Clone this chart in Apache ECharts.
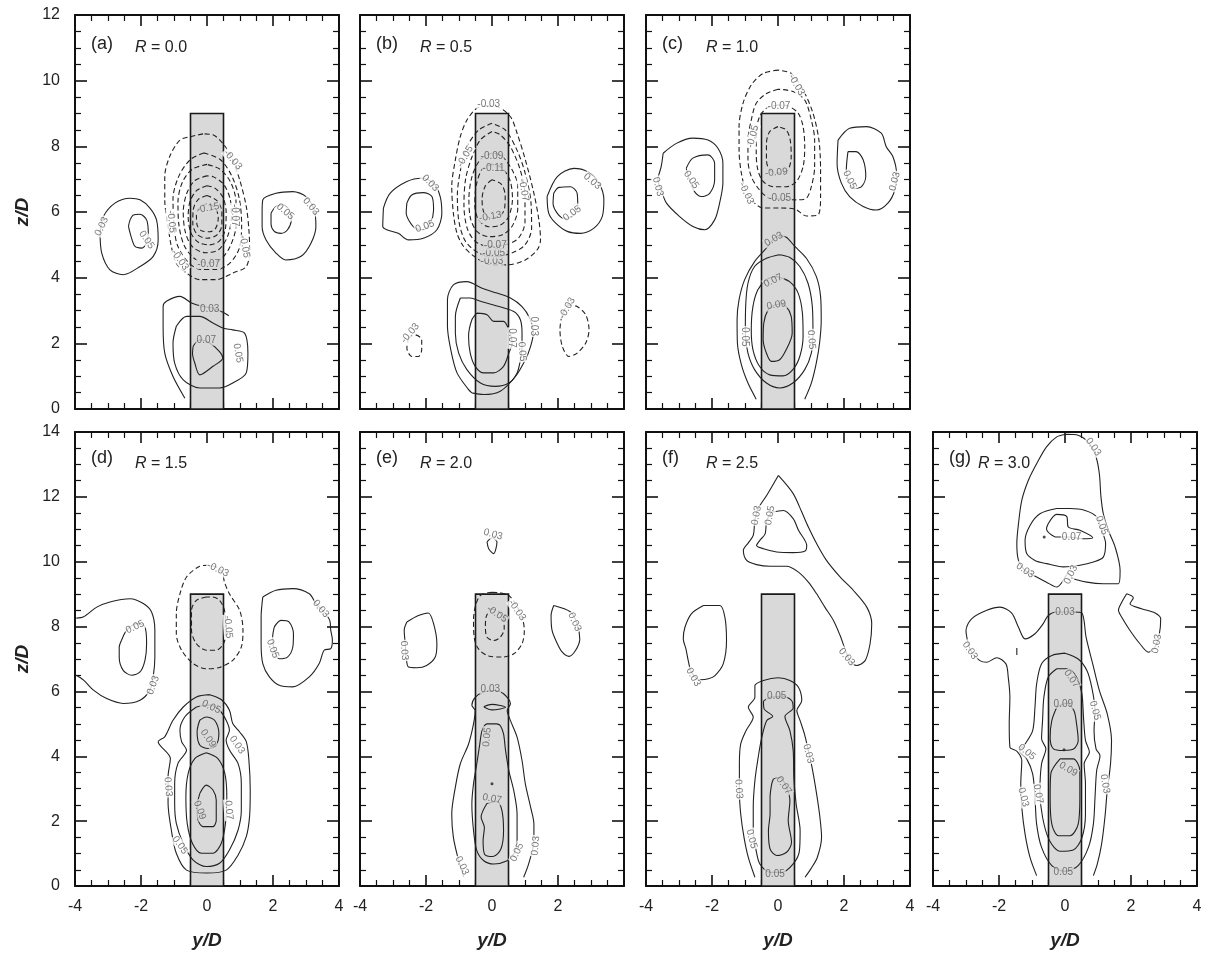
<!DOCTYPE html>
<html><head><meta charset="utf-8">
<script src="https://cdn.jsdelivr.net/npm/echarts@6/dist/echarts.min.js"></script>
<style>html,body{margin:0;padding:0;background:#fff}#c{width:1209px;height:960px}</style>
</head><body><div id="c"></div>
<script>
// ---------- categories / ticks ----------
const panelLetters = ['(a)','(b)','(c)','(d)','(e)','(f)','(g)'];
const rValues = ['0.0','0.5','1.0','1.5','2.0','2.5','3.0'];
const xTickLabels = [-4,-2,0,2,4];
const zMaxTop = 12, zMaxBottom = 14;
const rodHalfWidth = 0.5, rodHeight = 9;

// ---------- panel (a) R=0.0 ----------
const a_solid = [
 [[-3.24,5.36],[-3.14,5.86],[-2.79,6.27],[-2.33,6.42],[-2.03,6.37],[-1.73,6.12],[-1.53,5.76],[-1.48,5.15],[-1.63,4.65],[-2.03,4.34],[-2.54,4.09],[-2.94,4.24],[-3.19,4.75],[-3.24,5.36]],
 [[-2.38,5.56],[-2.33,5.76],[-2.23,5.91],[-2.03,5.93],[-1.83,5.76],[-1.78,5.36],[-1.83,5.05],[-1.98,4.90],[-2.18,4.95],[-2.30,5.25],[-2.38,5.56]],
 [[1.67,5.96],[1.69,6.37],[2.09,6.57],[2.60,6.62],[3.00,6.47],[3.25,6.06],[3.30,5.56],[3.15,5.05],[2.85,4.65],[2.39,4.54],[2.09,4.75],[1.79,5.15],[1.67,5.56],[1.67,5.96]],
 [[1.94,5.96],[2.09,6.17],[2.29,6.22],[2.49,6.06],[2.55,5.76],[2.44,5.46],[2.24,5.35],[2.04,5.41],[1.94,5.66],[1.94,5.96]],
 [[-0.67,0.33],[-1.03,0.99],[-1.28,1.70],[-1.33,2.52],[-1.33,3.12],[-1.23,3.28],[-0.82,3.43],[-0.47,3.23],[-0.12,3.12],[0.18,3.07],[0.50,2.94],[0.66,2.84]],
 [[-0.93,2.52],[-1.03,2.01],[-0.98,1.40],[-0.72,0.89],[-0.22,0.64],[0.38,0.64],[0.78,0.79],[1.19,1.10],[1.24,1.70],[1.14,2.31],[0.78,2.41],[0.50,2.46],[0.18,2.62],[-0.22,2.82],[-0.62,2.82],[-0.93,2.52]],
 [[-0.42,1.91],[-0.22,2.11],[0.08,2.01],[0.38,1.75],[0.48,1.55],[0.18,1.30],[-0.22,1.04],[-0.37,1.40],[-0.44,1.70],[-0.42,1.91]]
];
const a_dashed = [
 [[-0.12,8.38],[-0.47,8.30],[-0.82,8.19],[-1.13,7.69],[-1.28,7.08],[-1.28,6.37],[-1.18,5.56],[-1.08,4.95],[-0.93,4.44],[-0.62,4.14],[-0.22,3.94],[0.28,3.94],[0.78,4.14],[1.19,4.34],[1.29,4.85],[1.27,5.46],[1.19,6.17],[0.99,6.98],[0.73,7.69],[0.48,8.09],[0.18,8.35],[-0.12,8.38]],
 [[-0.1,7.8],[-0.5,7.6],[-0.85,7.1],[-1.03,6.4],[-1.0,5.6],[-0.9,5.0],[-0.6,4.5],[-0.2,4.25],[0.3,4.25],[0.7,4.45],[0.98,4.9],[1.05,5.6],[0.98,6.4],[0.75,7.1],[0.4,7.6],[-0.1,7.8]],
 [[0,7.45],[-0.45,7.3],[-0.75,6.9],[-0.88,6.3],[-0.85,5.6],[-0.7,5.0],[-0.4,4.6],[0,4.45],[0.4,4.55],[0.7,4.95],[0.88,5.6],[0.88,6.3],[0.72,6.9],[0.4,7.3],[0,7.45]],
 [[0,7.1],[-0.38,6.95],[-0.62,6.55],[-0.72,6.0],[-0.66,5.4],[-0.45,4.95],[-0.05,4.76],[0.35,4.85],[0.62,5.25],[0.74,5.85],[0.7,6.4],[0.5,6.85],[0.2,7.07],[0,7.1]],
 [[0,6.8],[-0.32,6.65],[-0.52,6.3],[-0.57,5.85],[-0.48,5.35],[-0.25,5.07],[0.08,5.0],[0.38,5.12],[0.56,5.5],[0.58,6.0],[0.48,6.45],[0.25,6.72],[0,6.8]],
 [[0,6.5],[-0.27,6.38],[-0.42,6.05],[-0.43,5.65],[-0.3,5.32],[0,5.2],[0.3,5.3],[0.45,5.6],[0.45,6.0],[0.3,6.35],[0,6.5]],
 [[0,6.25],[-0.2,6.15],[-0.32,5.9],[-0.3,5.6],[-0.15,5.42],[0.08,5.4],[0.26,5.5],[0.34,5.8],[0.28,6.08],[0.12,6.22],[0,6.25]]
];
const a_labels = [
 [-3.19,5.56,'0.03',65],[-1.83,5.15,'0.05',-55],[3.15,6.17,'0.03',-50],[2.37,6.01,'0.05',-40],
 [0.78,7.59,'-0.03',-50],[-0.82,4.54,'-0.03',-55],[-1.08,5.71,'-0.05',-85],[1.14,4.95,'-0.05',-80],
 [0.85,5.9,'-0.07',-90],[0.03,6.12,'-0.15',10],[0.05,4.42,'-0.07',0],[0.08,3.03,'0.03',0],
 [-0.02,2.08,'0.07',0],[0.94,1.70,'0.05',-80]
];

// ---------- panel (b) R=0.5 ----------
const b_solid = [
 [[-3.29,6.12],[-3.09,6.57],[-2.58,6.93],[-2.13,7.03],[-1.77,6.88],[-1.57,6.47],[-1.52,5.96],[-1.67,5.46],[-2.08,5.20],[-2.53,5.15],[-2.84,5.35],[-3.19,5.46],[-3.31,5.56],[-3.29,6.12]],
 [[-2.58,6.27],[-2.43,6.52],[-2.08,6.59],[-1.82,6.47],[-1.77,6.06],[-1.87,5.66],[-2.08,5.46],[-2.33,5.51],[-2.50,5.71],[-2.60,5.96],[-2.58,6.27]],
 [[1.67,6.47],[1.98,7.08],[2.48,7.33],[2.89,7.23],[3.24,6.88],[3.39,6.37],[3.34,5.86],[3.09,5.51],[2.68,5.35],[2.28,5.41],[1.93,5.66],[1.72,5.96],[1.67,6.47]],
 [[1.87,6.57],[2.03,6.75],[2.38,6.77],[2.58,6.57],[2.60,6.12],[2.43,5.86],[2.18,5.81],[1.98,5.96],[1.85,6.27],[1.87,6.57]],
 [[-0.61,0.49],[-0.71,0.59],[-1.06,1.10],[-1.25,1.81],[-1.35,2.52],[-1.35,3.33],[-1.17,3.78],[-0.76,3.88],[-0.30,3.68],[0.15,3.53],[0.56,3.38],[0.91,3.12],[1.14,2.77],[1.25,2.31],[1.17,1.91],[1.01,1.50],[0.71,0.99],[0.25,0.54],[-0.25,0.44],[-0.61,0.49]],
 [[-0.96,3.38],[-1.11,2.82],[-1.11,2.31],[-1.01,1.70],[-0.76,1.20],[-0.35,0.79],[0.10,0.69],[0.51,0.79],[0.76,1.10],[0.86,1.50],[0.91,1.91],[0.91,2.31],[0.86,2.72],[0.66,2.97],[0.05,3.17],[-0.35,3.28],[-0.66,3.38],[-0.96,3.38]],
 [[-0.46,2.92],[-0.15,2.87],[0.05,2.67],[0.35,2.67],[0.51,2.41],[0.61,2.01],[0.51,1.70],[0.35,1.30],[0.05,1.10],[-0.25,1.10],[-0.51,1.30],[-0.66,1.70],[-0.71,2.21],[-0.61,2.72],[-0.46,2.92]]
];
const b_dashed = [
 [[-0.15,9.23],[-0.46,9.16],[-0.76,8.80],[-0.96,8.30],[-1.11,7.59],[-1.22,6.77],[-1.17,5.96],[-1.06,5.35],[-0.86,4.95],[-0.46,4.59],[0,4.39],[0.46,4.39],[1.01,4.54],[1.37,4.85],[1.47,5.15],[1.42,5.76],[1.27,6.57],[1.01,7.59],[0.76,8.40],[0.56,8.90],[0.20,9.19],[-0.15,9.23]],
 [[0,8.7],[-0.4,8.5],[-0.75,8.0],[-0.95,7.3],[-1.05,6.5],[-1.0,5.7],[-0.8,5.1],[-0.4,4.75],[0.1,4.65],[0.6,4.75],[1.0,5.0],[1.2,5.5],[1.18,6.3],[1.0,7.2],[0.75,7.9],[0.4,8.5],[0,8.7]],
 [[0,8.45],[-0.35,8.2],[-0.6,7.7],[-0.8,7.0],[-0.85,6.2],[-0.75,5.5],[-0.5,5.1],[-0.1,4.95],[0.4,5.0],[0.8,5.2],[1.0,5.7],[1.0,6.5],[0.85,7.3],[0.55,8.0],[0.25,8.35],[0,8.45]],
 [[0,7.8],[-0.35,7.6],[-0.6,7.1],[-0.7,6.4],[-0.65,5.8],[-0.45,5.4],[-0.1,5.25],[0.3,5.3],[0.6,5.55],[0.78,6.1],[0.78,6.8],[0.6,7.3],[0.3,7.7],[0,7.8]],
 [[0,7.45],[-0.3,7.3],[-0.48,6.8],[-0.52,6.2],[-0.4,5.75],[-0.1,5.55],[0.25,5.6],[0.5,5.85],[0.62,6.4],[0.55,6.95],[0.3,7.35],[0,7.45]],
 [[0,6.98],[-0.2,6.8],[-0.3,6.4],[-0.25,6.0],[-0.05,5.82],[0.2,5.85],[0.38,6.1],[0.4,6.5],[0.28,6.85],[0,6.98]],
 [[-2.53,2.16],[-2.33,2.26],[-2.13,2.11],[-2.13,1.81],[-2.23,1.60],[-2.43,1.60],[-2.58,1.86],[-2.53,2.16]],
 [[2.28,3.17],[2.58,3.12],[2.84,2.87],[2.94,2.41],[2.84,2.01],[2.58,1.70],[2.33,1.60],[2.13,1.91],[2.06,2.41],[2.13,2.87],[2.28,3.17]]
];
const b_labels = [
 [-1.87,6.88,'0.03',-45],[-2.03,5.56,'0.05',20],[3.04,6.93,'0.03',-40],[2.43,5.96,'0.05',35],
 [-0.1,9.27,'-0.03',0],[0,4.49,'-0.03',0],[0.05,4.73,'-0.05',0],[0.1,4.98,'-0.07',0],
 [-0.81,7.69,'-0.05',60],[0,7.69,'-0.09',0],[0.05,7.33,'-0.11',0],[0.96,6.67,'-0.07',-80],
 [-0.05,5.86,'-0.13',10],[1.25,2.52,'0.03',-90],[0.91,1.75,'0.05',-85],[0.61,2.16,'0.07',-90],
 [-2.48,2.31,'-0.03',50],[2.28,3.07,'-0.03',60]
];

// ---------- panel (c) R=1.0 ----------
const c_solid = [
 [[-3.48,7.79],[-3.08,8.09],[-2.58,8.25],[-2.12,8.19],[-1.82,7.94],[-1.67,7.48],[-1.67,6.88],[-1.77,6.27],[-1.92,5.76],[-2.22,5.46],[-2.58,5.56],[-2.98,5.86],[-3.38,6.27],[-3.54,6.67],[-3.64,6.98],[-3.54,7.38],[-3.48,7.79]],
 [[-2.78,7.33],[-2.58,7.64],[-2.12,7.74],[-1.92,7.48],[-1.92,6.98],[-2.07,6.57],[-2.32,6.47],[-2.53,6.62],[-2.68,6.98],[-2.78,7.33]],
 [[1.82,8.19],[2.17,8.55],[2.68,8.60],[3.13,8.40],[3.28,7.99],[3.48,7.69],[3.59,7.18],[3.54,6.67],[3.33,6.27],[2.98,6.06],[2.58,6.17],[2.17,6.47],[1.92,6.88],[1.79,7.48],[1.82,8.19]],
 [[2.12,7.84],[2.37,7.84],[2.58,7.59],[2.66,7.08],[2.53,6.77],[2.32,6.72],[2.17,6.88],[2.07,7.28],[2.12,7.84]],
 [[-0.66,0.30],[-0.91,0.79],[-1.11,1.35],[-1.23,2.01],[-1.24,2.72],[-1.18,3.33],[-1.01,3.94],[-0.71,4.49],[-0.35,4.90],[0,5.27],[0.25,5.23],[0.51,4.95],[0.86,4.59],[1.16,4.04],[1.29,3.43],[1.31,2.72],[1.26,2.01],[1.16,1.40],[1.01,0.79],[0.81,0.30]],
 [[0.03,4.70],[-0.35,4.59],[-0.71,4.34],[-0.91,3.83],[-0.98,3.12],[-0.99,2.31],[-0.91,1.70],[-0.71,1.20],[-0.35,0.79],[0.05,0.64],[0.45,0.79],[0.81,1.20],[1.01,1.70],[1.06,2.31],[1.04,3.12],[0.91,3.83],[0.66,4.34],[0.35,4.62],[0.03,4.70]],
 [[-0.05,4.04],[-0.35,3.94],[-0.61,3.63],[-0.76,3.12],[-0.81,2.41],[-0.76,1.81],[-0.56,1.30],[-0.25,1.04],[0.15,1.01],[0.45,1.20],[0.66,1.60],[0.76,2.21],[0.74,2.92],[0.61,3.53],[0.35,3.88],[-0.05,4.04]],
 [[-0.10,3.17],[-0.30,3.02],[-0.43,2.62],[-0.45,2.11],[-0.35,1.70],[-0.20,1.45],[0.05,1.50],[0.25,1.81],[0.43,2.31],[0.40,2.82],[0.25,3.12],[0.05,3.20],[-0.10,3.17]]
];
const c_dashed = [
 [[0,10.32],[-0.45,10.22],[-0.81,9.87],[-1.06,9.31],[-1.18,8.60],[-1.18,7.89],[-1.11,7.18],[-0.96,6.62],[-0.71,6.27],[-0.45,6.12],[0.05,6.12],[0.51,6.09],[0.86,5.88],[1.21,5.91],[1.29,6.47],[1.29,7.28],[1.24,8.19],[1.06,9.01],[0.76,9.72],[0.40,10.22],[0,10.32]],
 [[0,9.74],[-0.35,9.61],[-0.66,9.31],[-0.81,8.80],[-0.91,8.19],[-0.91,7.59],[-0.81,7.08],[-0.56,6.67],[-0.25,6.42],[0.15,6.39],[0.56,6.37],[0.86,6.42],[1.01,6.77],[1.11,7.38],[1.11,8.19],[1.01,8.80],[0.81,9.41],[0.45,9.67],[0,9.74]],
 [[0,9.26],[-0.35,9.16],[-0.56,8.90],[-0.66,8.40],[-0.66,7.79],[-0.61,7.28],[-0.45,6.93],[-0.15,6.77],[0.25,6.77],[0.56,6.93],[0.76,7.38],[0.81,7.99],[0.76,8.60],[0.61,9.01],[0.30,9.23],[0,9.26]],
 [[0,8.60],[-0.25,8.45],[-0.35,8.09],[-0.35,7.59],[-0.25,7.28],[0.05,7.18],[0.30,7.28],[0.40,7.69],[0.37,8.19],[0.25,8.50],[0,8.60]]
];
const c_labels = [
 [-3.64,6.77,'0.03',-75],[-2.63,6.98,'0.05',-55],[3.54,6.93,'0.03',75],[2.17,6.98,'0.05',-65],
 [0.56,9.87,'-0.03',-60],[-0.96,6.57,'-0.03',-65],[-0.76,8.30,'-0.05',75],[0.03,9.23,'-0.07',0],
 [-0.05,7.2,'-0.09',5],[0.05,6.42,'-0.05',0],[-0.13,5.17,'0.03',30],[-0.15,3.91,'0.07',25],
 [-0.05,3.17,'0.09',10],[-1.0,2.2,'0.05',-90],[1.01,2.11,'0.05',-85]
];

// ---------- panel (d) R=1.5 ----------
const d_solid = [
 [[-3.96,8.26],[-3.74,8.30],[-3.34,8.60],[-2.94,8.76],[-2.33,8.86],[-1.93,8.71],[-1.68,8.45],[-1.58,7.89],[-1.58,7.06],[-1.63,6.45],[-1.73,6.04],[-2.03,5.73],[-2.54,5.63],[-3.04,5.78],[-3.44,6.04],[-3.74,6.35],[-3.96,6.50]],
 [[-2.59,7.58],[-2.43,7.89],[-2.13,8.09],[-1.88,7.99],[-1.83,7.47],[-1.88,6.96],[-2.03,6.60],[-2.28,6.50],[-2.54,6.65],[-2.66,7.06],[-2.66,7.37],[-2.59,7.58]],
 [[1.69,8.91],[2.09,9.12],[2.60,9.17],[3.10,9.01],[3.30,8.71],[3.55,8.45],[3.72,8.19],[3.75,7.89],[3.80,7.58],[3.75,7.32],[3.55,7.27],[3.40,6.86],[3.10,6.45],[2.60,6.14],[2.19,6.19],[1.89,6.45],[1.69,6.86],[1.64,7.47],[1.64,8.30],[1.69,8.91]],
 [[2.04,7.99],[2.24,8.19],[2.49,8.14],[2.62,7.78],[2.60,7.37],[2.44,7.06],[2.19,7.01],[2.04,7.27],[1.99,7.68],[2.04,7.99]],
 [[0.08,5.90],[0.43,5.75],[0.68,5.42],[0.78,5.01],[0.99,4.75],[1.19,4.45],[1.27,3.88],[1.31,2.96],[1.29,2.14],[1.19,1.52],[0.94,0.95],[0.58,0.49],[0,0.4],[-0.62,0.49],[-0.93,1.01],[-1.08,1.72],[-1.18,2.55],[-1.18,3.37],[-1.11,3.93],[-1.48,4.45],[-1.28,4.60],[-1.03,5.11],[-0.72,5.52],[-0.32,5.83],[0.08,5.90]],
 [[-0.32,5.52],[-0.67,5.22],[-0.82,4.80],[-0.77,4.45],[-0.62,4.19],[-0.88,3.78],[-0.98,3.16],[-0.98,2.55],[-0.93,1.93],[-0.72,1.31],[-0.42,0.80],[-0.02,0.60],[0.38,0.70],[0.68,1.11],[0.94,1.72],[1.04,2.34],[1.04,3.16],[0.94,3.78],[0.68,4.19],[0.58,4.50],[0.68,4.80],[0.58,5.11],[0.38,5.42],[0.08,5.58],[-0.32,5.52]],
 [[-0.22,5.11],[-0.02,5.21],[0.23,5.11],[0.36,4.70],[0.28,4.35],[0.03,4.24],[-0.22,4.35],[-0.30,4.76],[-0.22,5.11]],
 [[-0.02,4.11],[-0.37,3.93],[-0.57,3.47],[-0.64,2.75],[-0.60,1.93],[-0.44,1.31],[-0.17,1.01],[0.18,1.01],[0.43,1.31],[0.56,1.93],[0.60,2.75],[0.54,3.47],[0.33,3.93],[-0.02,4.11]],
 [[-0.22,2.85],[-0.02,3.11],[0.18,2.96],[0.28,2.65],[0.28,2.03],[0.18,1.83],[-0.12,1.83],[-0.27,2.03],[-0.30,2.44],[-0.22,2.85]]
];
const d_dashed = [
 [[0.03,9.89],[-0.22,9.86],[-0.62,9.53],[-0.82,9.01],[-0.93,8.40],[-0.93,7.78],[-0.77,7.27],[-0.42,6.86],[-0.02,6.70],[0.38,6.74],[0.78,6.96],[1.04,7.37],[1.09,7.89],[0.99,8.50],[0.68,9.01],[0.53,9.37],[0.46,9.68],[0.28,9.84],[0.03,9.89]],
 [[-0.02,8.91],[-0.32,8.81],[-0.47,8.50],[-0.47,7.89],[-0.32,7.47],[-0.02,7.27],[0.28,7.27],[0.50,7.47],[0.58,7.89],[0.53,8.50],[0.38,8.81],[0.18,8.91],[-0.02,8.91]]
];
const d_labels = [
 [-2.18,7.99,'0.05',25],[-1.63,6.19,'0.03',70],[3.45,8.55,'0.03',-50],[1.99,7.32,'0.05',-70],
 [0.33,9.76,'-0.03',-25],[0.64,7.99,'-0.05',-85],[0.13,5.52,'0.05',-25],[0.03,4.55,'0.09',-55],
 [0.91,4.35,'0.03',-55],[-1.18,3.06,'0.03',-85],[0.66,2.34,'0.07',-85],[-0.22,2.34,'0.09',-70],
 [-0.82,1.26,'0.05',-55]
];

// ---------- panel (e) R=2.0 ----------
const e_solid = [
 [[-0.15,10.61],[0,10.74],[0.15,10.61],[0.05,10.25],[-0.10,10.40],[-0.15,10.61]],
 [[-2.58,8.14],[-2.23,8.34],[-1.93,8.42],[-1.77,8.09],[-1.67,7.47],[-1.72,7.06],[-1.98,6.80],[-2.28,6.73],[-2.53,6.75],[-2.60,7.06],[-2.63,7.47],[-2.66,7.89],[-2.58,8.14]],
 [[1.87,8.65],[2.38,8.45],[2.58,8.09],[2.66,7.62],[2.53,7.26],[2.33,7.08],[2.13,7.21],[1.98,7.47],[1.82,7.88],[1.79,8.34],[1.87,8.65]],
 [[-0.86,0.29],[-1.01,0.78],[-1.17,1.50],[-1.22,2.22],[-1.11,3.05],[-0.96,3.77],[-0.71,4.38],[-0.56,5.00],[-0.51,5.41],[-0.61,5.57],[-0.51,5.82],[-0.25,5.98],[0.05,6.03],[0.35,5.93],[0.56,5.62],[0.46,5.41],[0.56,5.10],[0.76,4.59],[0.91,3.87],[1.01,3.15],[1.17,2.43],[1.27,1.91],[1.27,1.40],[1.11,0.68],[0.96,0.27]],
 [[-0.25,5.53],[0,5.60],[0.41,5.51],[0,5.43],[-0.25,5.53]],
 [[0.15,5.00],[-0.15,5.00],[-0.30,4.79],[-0.37,4.38],[-0.46,3.77],[-0.56,3.15],[-0.61,2.53],[-0.56,1.71],[-0.46,1.09],[-0.25,0.78],[0.05,0.68],[0.46,0.78],[0.66,0.99],[0.76,1.40],[0.76,2.22],[0.66,2.94],[0.51,3.56],[0.41,4.18],[0.35,4.69],[0.25,4.95],[0.15,5.00]],
 [[-0.15,2.55],[0.15,2.61],[0.30,2.33],[0.35,1.71],[0.27,1.14],[0.03,0.91],[-0.23,0.99],[-0.27,1.40],[-0.23,1.81],[-0.33,2.12],[-0.15,2.55]]
];
const e_dashed = [
 [[0,9.06],[-0.35,8.96],[-0.51,8.60],[-0.56,8.19],[-0.54,7.67],[-0.41,7.31],[-0.10,7.09],[0.30,7.06],[0.66,7.16],[0.91,7.47],[0.98,7.88],[0.91,8.29],[0.71,8.70],[0.51,8.96],[0.25,9.04],[0,9.06]],
 [[-0.05,8.55],[0.15,8.50],[0.35,8.29],[0.37,7.93],[0.25,7.67],[0.05,7.57],[-0.15,7.67],[-0.20,7.98],[-0.18,8.29],[-0.05,8.55]]
];
const e_labels = [
 [0.03,10.84,'0.03',-15],[-2.66,7.26,'0.03',-85],[2.50,8.14,'0.03',-65],[0.76,8.50,'-0.03',-55],
 [0.15,8.39,'-0.05',-35],[-0.05,6.07,'0.03',0],[-0.15,4.59,'0.05',85],[0,2.69,'0.07',-10],
 [0.76,1.04,'0.05',65],[1.32,1.24,'0.03',85],[-0.91,0.63,'0.03',-65]
];
const e_dots = [[0,3.15]];

// ---------- panel (f) R=2.5 ----------
const f_solid = [
 [[0.01,12.66],[0.46,12.10],[0.72,11.53],[0.92,11.07],[1.17,10.56],[1.47,10.04],[1.88,9.53],[2.28,9.12],[2.69,8.60],[2.84,8.09],[2.79,7.47],[2.64,6.95],[2.38,6.80],[2.18,6.95],[2.03,7.31],[1.88,7.73],[1.68,8.19],[1.42,8.60],[1.17,9.01],[0.92,9.37],[0.62,9.68],[0.26,9.86],[-0.24,9.86],[-0.65,9.91],[-0.95,10.04],[-1.05,10.35],[-0.90,10.58],[-0.75,10.81],[-0.70,11.28],[-0.60,11.64],[-0.34,12.05],[0.01,12.66]],
 [[-0.19,11.53],[0.16,11.58],[0.46,11.33],[0.62,10.97],[0.87,10.50],[0.82,10.33],[0.46,10.28],[-0.04,10.30],[-0.44,10.40],[-0.65,10.50],[-0.55,10.66],[-0.39,10.86],[-0.34,11.28],[-0.19,11.53]],
 [[-2.26,8.65],[-1.76,8.65],[-1.61,8.29],[-1.56,7.57],[-1.66,6.85],[-1.91,6.49],[-2.11,6.39],[-2.36,6.36],[-2.62,6.59],[-2.72,6.95],[-2.79,7.31],[-2.87,7.62],[-2.82,7.98],[-2.62,8.40],[-2.26,8.65]],
 [[-0.70,0.27],[-0.90,0.88],[-1.03,1.50],[-1.13,2.22],[-1.17,2.94],[-1.17,3.77],[-1.13,4.38],[-0.97,4.79],[-0.75,5.21],[-0.90,5.51],[-0.70,5.82],[-0.70,6.18],[-0.44,6.34],[0.01,6.42],[0.36,6.34],[0.62,6.13],[0.72,5.72],[0.57,5.41],[0.67,5.10],[0.80,4.69],[0.92,4.18],[1.05,3.56],[1.17,2.84],[1.27,2.12],[1.32,1.50],[1.19,0.88],[0.99,0.52],[0.82,0.27]],
 [[-0.44,5.70],[-0.24,5.82],[0.16,5.84],[0.41,5.72],[0.46,5.49],[0.21,5.23],[0.36,4.79],[0.46,4.18],[0.48,3.35],[0.55,2.53],[0.67,1.71],[0.65,1.09],[0.46,0.68],[0.11,0.42],[-0.24,0.42],[-0.55,0.68],[-0.67,1.14],[-0.75,1.71],[-0.75,2.43],[-0.70,3.25],[-0.60,3.97],[-0.49,4.59],[-0.34,5.10],[-0.16,5.23],[-0.42,5.46],[-0.44,5.70]],
 [[-0.14,3.30],[0.06,3.35],[0.26,3.05],[0.36,2.63],[0.31,2.02],[0.41,1.35],[0.26,1.04],[-0.04,0.94],[-0.24,1.14],[-0.29,1.71],[-0.24,2.22],[-0.24,2.74],[-0.19,3.15],[-0.14,3.30]]
];
const f_dashed = [];
const f_labels = [
 [-0.65,11.43,'0.03',80],[-0.24,11.43,'0.05',80],[2.08,7.06,'0.03',-50],[-2.57,6.44,'0.03',-60],
 [-0.04,5.86,'0.05',0],[-1.19,2.99,'0.03',-85],[0.92,4.08,'0.03',-75],[0.18,3.10,'0.07',-55],
 [-0.80,1.45,'0.05',-75],[-0.09,0.37,'0.05',0]
];

// ---------- panel (g) R=3.0 ----------
const g_solid = [
 [[0.05,13.93],[-0.25,13.85],[-0.56,13.54],[-0.86,13.02],[-1.11,12.51],[-1.31,11.89],[-1.41,11.17],[-1.46,10.56],[-1.41,10.04],[-1.21,9.73],[-0.86,9.53],[-0.56,9.37],[-0.25,9.22],[-0.05,9.42],[0.10,9.65],[0.25,9.48],[0.66,9.37],[1.16,9.32],[1.62,9.32],[1.67,9.73],[1.52,10.45],[1.31,10.97],[1.16,11.48],[1.09,12.00],[1.04,12.72],[0.94,13.23],[0.74,13.64],[0.40,13.90],[0.05,13.93]],
 [[-0.25,11.64],[-0.76,11.48],[-1.06,11.12],[-1.21,10.66],[-1.16,10.25],[-0.91,10.04],[-0.56,9.94],[-0.05,9.84],[0.45,9.89],[0.86,9.99],[1.16,10.14],[1.23,10.56],[1.11,10.97],[0.96,11.38],[0.61,11.58],[0.15,11.64],[-0.25,11.64]],
 [[-0.51,11.17],[-0.25,11.46],[0.05,11.40],[0.10,11.07],[0.45,10.97],[0.84,10.74],[0.51,10.71],[0.10,10.76],[-0.25,10.76],[-0.45,10.86],[-0.56,11.02],[-0.51,11.17]],
 [[-0.86,0.32],[-1.06,0.88],[-1.21,1.60],[-1.31,2.43],[-1.34,3.15],[-1.31,3.87],[-1.46,4.16],[-1.67,4.28],[-1.69,5.00],[-1.67,5.82],[-1.72,6.44],[-1.79,6.85],[-2.07,7.04],[-2.37,6.90],[-2.58,6.95],[-2.83,7.21],[-2.93,7.47],[-3.00,7.88],[-2.83,8.24],[-2.37,8.50],[-1.97,8.60],[-1.62,8.42],[-1.41,7.98],[-1.21,7.62],[-0.91,7.78],[-0.66,8.09],[-0.51,8.34],[-0.25,8.45],[0.25,8.45],[0.51,8.42],[0.64,7.67],[0.84,6.85],[1.04,6.03],[1.28,5.31],[1.41,4.49],[1.38,3.77],[1.28,2.94],[1.21,2.12],[1.11,1.30],[0.98,0.68],[0.86,0.32]],
 [[1.87,9.01],[2.07,8.89],[1.97,8.70],[2.32,8.55],[2.73,8.42],[2.90,8.24],[2.86,7.78],[2.73,7.37],[2.53,7.21],[2.27,7.47],[1.97,7.88],[1.72,8.29],[1.62,8.50],[1.72,8.75],[1.87,9.01]],
 [[-1.46,7.12],[-1.46,7.34]],
 [[0,7.18],[-0.40,7.11],[-0.71,6.85],[-0.86,6.23],[-0.91,5.51],[-0.98,4.79],[-1.21,4.38],[-1.38,4.18],[-1.16,3.92],[-0.98,3.46],[-0.91,2.74],[-0.86,1.91],[-0.71,1.19],[-0.40,0.63],[0,0.45],[0.40,0.63],[0.71,1.19],[0.86,1.91],[0.91,2.74],[0.96,3.56],[1.06,4.02],[0.94,4.23],[0.88,4.79],[0.91,5.41],[0.81,6.13],[0.66,6.65],[0.40,7.00],[0,7.18]],
 [[-0.25,6.70],[-0.51,6.44],[-0.64,5.82],[-0.68,5.10],[-0.71,4.54],[-0.58,4.23],[-0.71,3.77],[-0.76,2.94],[-0.68,2.12],[-0.47,1.40],[-0.15,1.07],[0.25,1.11],[0.51,1.48],[0.62,2.22],[0.62,3.15],[0.58,3.77],[0.74,4.13],[0.62,4.49],[0.56,5.21],[0.51,5.93],[0.35,6.44],[0.07,6.70],[-0.25,6.70]],
 [[-0.25,5.51],[0.05,5.64],[0.27,5.41],[0.35,5.00],[0.40,4.49],[0.27,4.23],[-0.05,4.18],[-0.35,4.23],[-0.45,4.59],[-0.40,5.10],[-0.25,5.51]],
 [[-0.15,3.92],[0.25,3.92],[0.45,3.56],[0.45,2.74],[0.40,1.91],[0.15,1.55],[-0.20,1.55],[-0.40,1.91],[-0.45,2.74],[-0.43,3.46],[-0.15,3.92]]
];
const g_dashed = [];
const g_labels = [
 [0.86,13.54,'0.03',-55],[1.11,11.12,'0.05',-70],[0.20,10.76,'0.07',0],[-1.21,9.73,'0.03',-35],
 [0.18,9.6,'0.03',65],[0,8.45,'0.03',0],[-2.88,7.26,'0.03',-55],[2.78,7.47,'0.03',80],
 [0.20,6.39,'0.07',-55],[-0.05,5.62,'0.09',0],[0.91,5.41,'0.05',-75],[-1.16,4.13,'0.05',-40],
 [0.10,3.6,'0.09',-30],[-1.26,2.74,'0.03',-75],[-0.81,2.84,'0.07',-80],[1.21,3.15,'0.03',-80],
 [-0.05,0.42,'0.05',0]
];
const g_dots = [[-0.63,10.76],[-0.03,4.2]];

// ---------- assemble ----------
const panels = [
 {solid:a_solid, dashed:a_dashed, labels:a_labels, dots:[]},
 {solid:b_solid, dashed:b_dashed, labels:b_labels, dots:[]},
 {solid:c_solid, dashed:c_dashed, labels:c_labels, dots:[]},
 {solid:d_solid, dashed:d_dashed, labels:d_labels, dots:[]},
 {solid:e_solid, dashed:e_dashed, labels:e_labels, dots:e_dots},
 {solid:f_solid, dashed:f_dashed, labels:f_labels, dots:[]},
 {solid:g_solid, dashed:g_dashed, labels:g_labels, dots:g_dots}
];
const colLeft = [75, 360, 646, 933];
const colW = 264;
const rowTop = [15, 432];
const rowH = [394, 454];
const layout = [[0,0],[0,1],[0,2],[1,0],[1,1],[1,2],[1,3]]; // [row, col]

const FONT = "'Liberation Sans', Arial, sans-serif";
const INK = '#111';
const ROD_FILL = '#d9d9d9';
const grids = [], xAxes = [], yAxes = [], series = [], titles = [];

layout.forEach(([r, c], i) => {
  const left = colLeft[c], top = rowTop[r];
  grids.push({left: left, top: top, width: colW, height: rowH[r], containLabel: false});
  const zMax = r === 0 ? zMaxTop : zMaxBottom;
  const showX = r === 1;
  const showY = c === 0;
  const baseX = {
    gridIndex: i, type: 'value', min: xTickLabels[0], max: xTickLabels[xTickLabels.length-1], interval: 2,
    axisLine: {show: true, onZero: false, lineStyle: {color: INK, width: 2}},
    axisTick: {show: true, inside: true, length: 11, lineStyle: {color: INK, width: 1.6}},
    minorTick: {show: true, splitNumber: 4, length: 6, lineStyle: {color: INK, width: 1.2}},
    splitLine: {show: false}, minorSplitLine: {show: false}
  };
  xAxes.push(Object.assign({}, baseX, {
    position: 'bottom',
    axisLabel: {show: showX, fontSize: 16, color: '#222', fontFamily: FONT, margin: 13, showMinLabel: true, showMaxLabel: true,
      formatter: v => (i === 4 && v === 4) ? '' : String(v)},
    name: showX ? 'y/D' : '', nameLocation: 'middle', nameGap: 45,
    nameTextStyle: {fontSize: 19, fontWeight: 'bold', fontStyle: 'italic', color: '#222', fontFamily: FONT}
  }));
  xAxes.push(Object.assign({}, baseX, {position: 'top', axisLabel: {show: false}}));
  const baseY = {
    gridIndex: i, type: 'value', min: 0, max: zMax, interval: 2,
    axisLine: {show: true, onZero: false, lineStyle: {color: INK, width: 2}},
    axisTick: {show: true, inside: true, length: 12, lineStyle: {color: INK, width: 1.6}},
    minorTick: {show: true, splitNumber: 4, length: 6, lineStyle: {color: INK, width: 1.2}},
    splitLine: {show: false}, minorSplitLine: {show: false}
  };
  yAxes.push(Object.assign({}, baseY, {
    position: 'left',
    axisLabel: {show: showY, fontSize: 16, color: '#222', fontFamily: FONT, margin: 15, showMinLabel: true, showMaxLabel: true},
    name: showY ? 'z/D' : '', nameLocation: 'middle', nameGap: 43,
    nameTextStyle: {fontSize: 19, fontWeight: 'bold', fontStyle: 'italic', color: '#222', fontFamily: FONT}
  }));
  yAxes.push(Object.assign({}, baseY, {position: 'right', axisLabel: {show: false}}));

  const xi = 2 * i, yi = 2 * i;
  series.push({
    type: 'custom', xAxisIndex: xi, yAxisIndex: yi, silent: true, z: 1,
    data: [[-rodHalfWidth, 0, rodHalfWidth, rodHeight]],
    encode: {x: [0, 2], y: [1, 3]},
    renderItem: (params, api) => {
      const p0 = api.coord([api.value(0), api.value(1)]);
      const p1 = api.coord([api.value(2), api.value(3)]);
      return {type: 'rect', shape: {x: p0[0], y: p1[1], width: p1[0] - p0[0], height: p0[1] - p1[1]},
        style: {fill: ROD_FILL, stroke: '#1a1a1a', lineWidth: 1.6}};
    }
  });
  const p = panels[i];
  const mk = (line, dashed) => ({
    type: 'line', xAxisIndex: xi, yAxisIndex: yi, data: line, showSymbol: false, symbol: 'none',
    smooth: 0.3, silent: true, z: 3,
    lineStyle: {color: '#222', width: 1.1, type: dashed ? [5, 3] : 'solid'}
  });
  p.solid.forEach(l => series.push(mk(l, false)));
  p.dashed.forEach(l => series.push(mk(l, true)));
  const inRod = (x, z) => Math.abs(x) < rodHalfWidth && z < rodHeight;
  series.push({
    type: 'scatter', xAxisIndex: xi, yAxisIndex: yi, silent: true, z: 5,
    symbolSize: 1, itemStyle: {color: 'rgba(0,0,0,0)'},
    label: {show: true, position: 'inside', fontSize: 10, color: '#555', fontFamily: FONT, padding: [0, 1]},
    data: p.labels.map(l => ({value: [l[0], l[1]],
      label: {formatter: l[2], rotate: l[3], backgroundColor: inRod(l[0], l[1]) ? ROD_FILL : '#fff'}}))
  });
  if (p.dots.length) {
    series.push({type: 'scatter', xAxisIndex: xi, yAxisIndex: yi, silent: true, z: 4,
      symbolSize: 3, itemStyle: {color: '#222'}, data: p.dots});
  }
  const tTop = r === 0 ? 35 : 449;
  const rTop = r === 0 ? 40 : 456;
  const rLeft = i === 6 ? left + 45 : left + 60;
  titles.push({text: panelLetters[i], left: left + 16, top: tTop, padding: 0,
    textStyle: {fontSize: 18, fontWeight: 'normal', color: '#222', fontFamily: FONT}});
  titles.push({text: '{i|R} = ' + rValues[i], left: rLeft, top: rTop, padding: 0,
    textStyle: {fontSize: 16, fontWeight: 'normal', color: '#222', fontFamily: FONT,
      rich: {i: {fontStyle: 'italic', fontSize: 16, color: '#222', fontFamily: FONT}}}});
});

const chart = echarts.init(document.getElementById('c'), null, {renderer: 'canvas'});
chart.setOption({
  backgroundColor: '#fff',
  animation: false,
  title: titles,
  grid: grids,
  xAxis: xAxes,
  yAxis: yAxes,
  series: series
});
</script>
</body></html>
